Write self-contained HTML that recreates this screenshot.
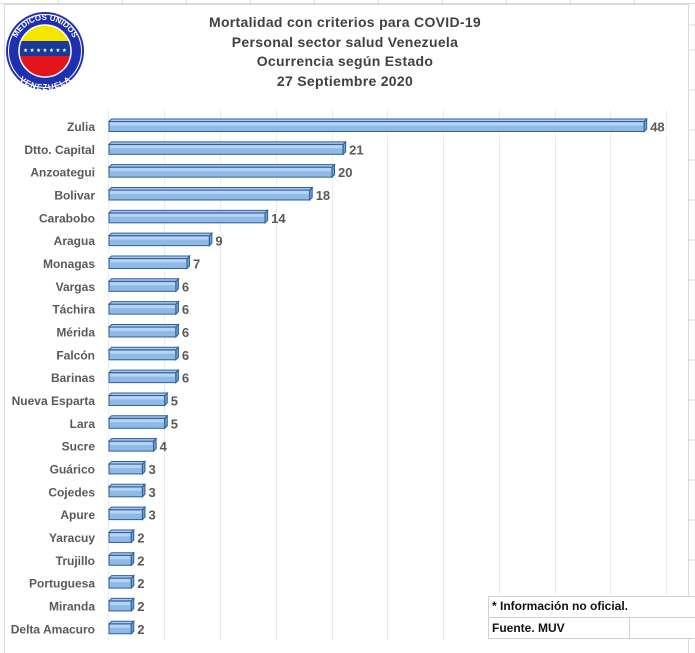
<!DOCTYPE html><html><head><style>
body{margin:0;width:695px;height:653px;background:#fff;overflow:hidden;font-family:"Liberation Sans",sans-serif;position:relative}
.t{position:absolute;left:150px;width:390px;text-align:center;font-weight:bold;color:#404040;font-size:14px;letter-spacing:.3px}
</style></head><body>
<svg width="695" height="653" style="position:absolute;left:0;top:0">
<g stroke="#d9d9d9" stroke-width="1">
<line x1="0" y1="3.5" x2="695" y2="3.5"/>
<line x1="58.5" y1="0" x2="58.5" y2="4"/><line x1="122.5" y1="0" x2="122.5" y2="4"/><line x1="186.5" y1="0" x2="186.5" y2="4"/><line x1="250.5" y1="0" x2="250.5" y2="4"/><line x1="314.5" y1="0" x2="314.5" y2="4"/><line x1="378.5" y1="0" x2="378.5" y2="4"/><line x1="442.5" y1="0" x2="442.5" y2="4"/><line x1="506.5" y1="0" x2="506.5" y2="4"/><line x1="570.5" y1="0" x2="570.5" y2="4"/><line x1="634.5" y1="0" x2="634.5" y2="4"/>
<line x1="689" y1="25" x2="695" y2="25"/><line x1="689" y1="50" x2="695" y2="50"/><line x1="689" y1="90" x2="695" y2="90"/><line x1="689" y1="130" x2="695" y2="130"/><line x1="689" y1="160" x2="695" y2="160"/><line x1="689" y1="200" x2="695" y2="200"/><line x1="689" y1="240" x2="695" y2="240"/><line x1="689" y1="280" x2="695" y2="280"/><line x1="689" y1="320" x2="695" y2="320"/><line x1="689" y1="360" x2="695" y2="360"/><line x1="689" y1="400" x2="695" y2="400"/><line x1="689" y1="440" x2="695" y2="440"/><line x1="689" y1="480" x2="695" y2="480"/><line x1="689" y1="520" x2="695" y2="520"/><line x1="689" y1="560" x2="695" y2="560"/>
</g>
<rect x="4.5" y="4.5" width="684" height="650" fill="none" stroke="#d9d9d9"/>
<g stroke="#ececec">
<line x1="164.5" y1="110" x2="164.5" y2="640"/><line x1="220.5" y1="110" x2="220.5" y2="640"/><line x1="276.5" y1="110" x2="276.5" y2="640"/><line x1="332.5" y1="110" x2="332.5" y2="640"/><line x1="387.5" y1="110" x2="387.5" y2="640"/><line x1="443.5" y1="110" x2="443.5" y2="640"/><line x1="499.5" y1="110" x2="499.5" y2="596"/><line x1="555.5" y1="110" x2="555.5" y2="596"/><line x1="610.5" y1="110" x2="610.5" y2="596"/><line x1="666.5" y1="110" x2="666.5" y2="596"/>
<line x1="108.5" y1="110" x2="108.5" y2="640"/>
</g>
<!-- logo -->
<circle cx="45" cy="51" r="38" fill="#fff" stroke="#1e2fb0" stroke-width="2"/>
<circle cx="45" cy="51" r="36" fill="#1e2fb0"/>
<clipPath id="c"><circle cx="45" cy="51" r="26"/></clipPath>
<g clip-path="url(#c)"><rect x="15" y="20" width="60" height="21" fill="#f5e600"/><rect x="15" y="41" width="60" height="15" fill="#1a3a9a"/><rect x="15" y="56" width="60" height="25" fill="#e3141b"/></g>
<circle cx="45" cy="51" r="26" fill="none" stroke="#fff" stroke-width="1.5"/>
<text x="45" y="52" font-size="5.5" fill="#fff" text-anchor="middle">★ ★ ★ ★ ★ ★ ★</text>
<defs><path id="a1" d="M14,51 A31,31 0 0 1 76,51"/><path id="a2" d="M12,51 A33,33 0 0 0 78,51"/></defs>
<text font-size="8" font-weight="bold" fill="#fff"><textPath href="#a1" startOffset="50%" text-anchor="middle">MEDICOS UNIDOS</textPath></text>
<text font-size="8" font-weight="bold" fill="#fff" dy="6"><textPath href="#a2" startOffset="50%" text-anchor="middle">VENEZUELA</textPath></text>
<g id="bars"></g>
</svg>
<div class="t" style="top:14px">Mortalidad con criterios para COVID-19</div>
<div class="t" style="top:34px">Personal sector salud Venezuela</div>
<div class="t" style="top:53px">Ocurrencia según Estado</div>
<div class="t" style="top:73px">27 Septiembre 2020</div>
<div style="position:absolute;left:488px;top:596px;width:207px;height:42px;border-top:1px solid #d0d0d0;border-left:1px solid #d0d0d0;background:#fff"></div>
<div style="position:absolute;left:488px;top:617px;width:207px;border-top:1px solid #d0d0d0"></div>
<div style="position:absolute;left:488px;top:638px;width:207px;border-top:1px solid #d0d0d0"></div>
<div style="position:absolute;left:629px;top:617px;height:21px;border-left:1px solid #d0d0d0"></div>
<div style="position:absolute;left:492px;top:599px;font-size:12px;font-weight:bold;color:#111">* Información no oficial.</div>
<div style="position:absolute;left:492px;top:621px;font-size:12px;font-weight:bold;color:#111">Fuente. MUV</div>
<script>
var d=[["Zulia",48],["Dtto. Capital",21],["Anzoategui",20],["Bolivar",18],["Carabobo",14],["Aragua",9],["Monagas",7],["Vargas",6],["Táchira",6],["Mérida",6],["Falcón",6],["Barinas",6],["Nueva Esparta",5],["Lara",5],["Sucre",4],["Guárico",3],["Cojedes",3],["Apure",3],["Yaracuy",2],["Trujillo",2],["Portuguesa",2],["Miranda",2],["Delta Amacuro",2]];
var s="",x0=109,k=11.15;
d.forEach(function(e,i){var c=126.5+i*22.83,w=e[1]*k,y=c-5;
s+='<rect x="'+x0+'" y="'+y+'" width="'+w+'" height="10" fill="#8fb9e6" stroke="#2e5f99" stroke-width="1"/>';
s+='<rect x="'+(x0+1)+'" y="'+(y+1)+'" width="'+(w-2)+'" height="3" fill="#b9d4f1"/>';
s+='<polygon points="'+(x0+w)+','+y+' '+(x0+w+2.5)+','+(y-2.5)+' '+(x0+w+2.5)+','+(y+7.5)+' '+(x0+w)+','+(y+10)+'" fill="#6f9fd6" stroke="#2e5f99" stroke-width="1"/>';
s+='<polygon points="'+x0+','+y+' '+(x0+2.5)+','+(y-2.5)+' '+(x0+w+2.5)+','+(y-2.5)+' '+(x0+w)+','+y+'" fill="#a9c9ee" stroke="#2e5f99" stroke-width="1"/>';
s+='<text x="95" y="'+(c+4.5)+'" font-size="12" font-weight="bold" fill="#595959" text-anchor="end" font-family="Liberation Sans">'+e[0]+'</text>';
s+='<text x="'+(x0+w+6)+'" y="'+(c+5)+'" font-size="13" font-weight="bold" fill="#595959" font-family="Liberation Sans">'+e[1]+'</text>';});
document.getElementById("bars").innerHTML=s;
</script>
</body></html>
